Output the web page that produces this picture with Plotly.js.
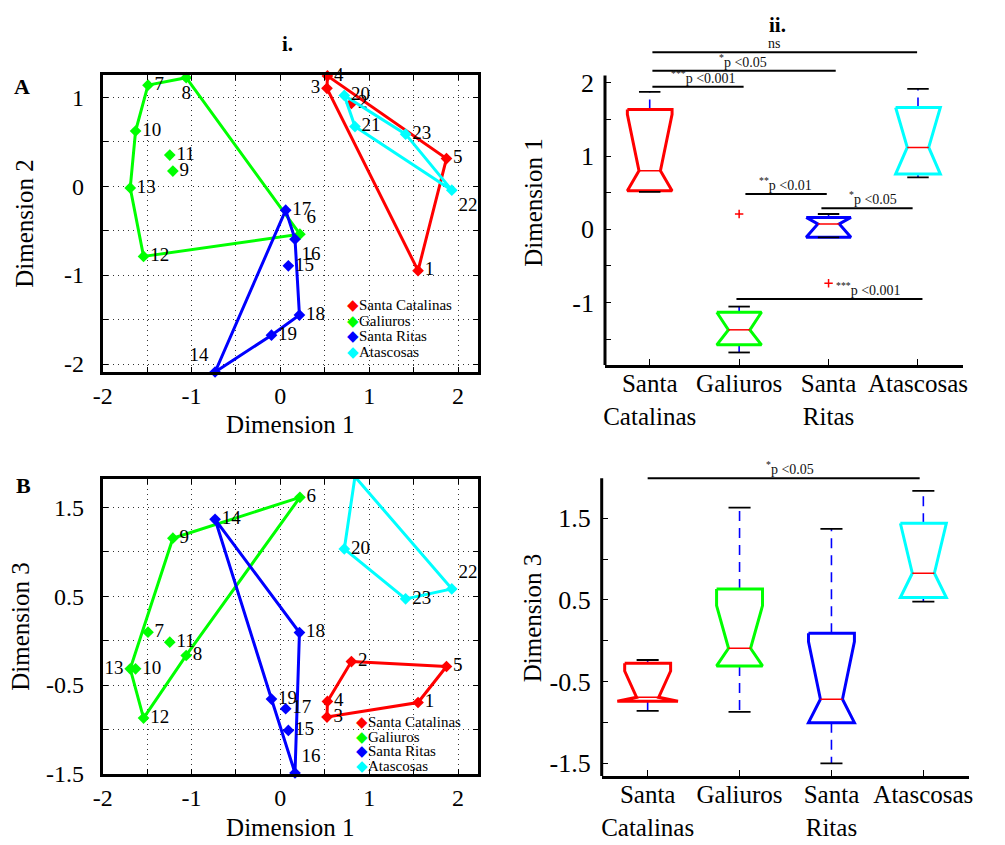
<!DOCTYPE html>
<html>
<head>
<meta charset="utf-8">
<script src="https://cdn.plot.ly/plotly-3.0.1.min.js"></script>
<style>html,body{margin:0;padding:0;background:#fff;}</style>
</head>
<body>
<div id="chart" style="width:1005px;height:845px;"></div>
<script>
// ================= DATA =================
const pointLabels = ['1','2','3','4','5','6','7','8','9','10','11','12','13','14','15','16','17','18','19','20','21','22','23'];
const groupNames = ['Santa Catalinas','Galiuros','Santa Ritas','Atascosas'];
const groupOfPoint = [0,0,0,0,0, 1,1,1,1,1,1,1,1, 2,2,2,2,2,2, 3,3,3,3];
const dimension1 = [1.55,0.80,0.525,0.53,1.87,0.22,-1.49,-1.06,-1.21,-1.63,-1.245,-1.54,-1.69,-0.735,0.09,0.165,0.06,0.215,-0.10,0.72,0.84,1.93,1.41];
const dimension2 = [-0.95,0.93,1.10,1.24,0.31,-0.54,1.136,1.22,0.17,0.62,0.35,-0.79,-0.02,-2.09,-0.896,-0.596,-0.27,-1.45,-1.676,1.02,0.67,-0.045,0.585];
const dimension3 = [-0.696,-0.235,-0.86,-0.684,-0.291,1.612,0.095,-0.167,1.152,-0.317,-0.017,-0.871,-0.317,1.365,-1.01,-1.489,-0.766,0.091,-0.657,1.031,1.844,0.582,0.47];
// convex hull outlines (point ids) per group
const hullDim12 = [[4,5,1,3,4],[7,8,6,12,13,10,7],[17,16,18,19,14,17],[20,23,22,21,20]];
const hullDim13 = [[2,5,1,3,4,2],[9,6,8,12,13,9],[14,18,16,19,14],[21,22,23,20,21]];

// box plot categories and statistics
const categories = ['Santa<br>Catalinas','Galiuros','Santa<br>Ritas','Atascosas'];
const d1Q1 = [0.527,-1.576,-0.109,0.754];
const d1NotchLo = [0.527,-1.576,-0.109,0.754];
const d1Median = [0.80,-1.371,0.073,1.117];
const d1NotchHi = [1.57,-1.131,0.163,1.662];
const d1Q3 = [1.635,-1.131,0.163,1.662];
const d1CapLo = [0.51,-1.68,-0.11,0.708];
const d1CapHi = [1.875,-1.054,0.209,1.916];
const d1OutlierGroup = [2,3];
const d1OutlierValue = [0.209,-0.736];

const d3Q1 = [-0.74,-0.308,-1.002,0.529];
const d3NotchLo = [-0.74,-0.308,-1.002,0.529];
const d3Median = [-0.692,-0.092,-0.716,0.827];
const d3NotchHi = [-0.37,0.43,-0.01,1.439];
const d3Q3 = [-0.276,0.635,0.092,1.439];
const d3CapLo = [-0.859,-0.871,-1.5,0.48];
const d3CapHi = [-0.235,1.631,1.369,1.835];

// significance brackets
const d1SigText = ['ns','<sup>*</sup>p &lt;0.05','<sup>***</sup>p &lt;0.001','<sup>**</sup>p &lt;0.01','<sup>*</sup>p &lt;0.05','<sup>***</sup>p &lt;0.001'];
const d1SigFrom = [1.03,1.03,1.03,2.07,2.92,1.97];
const d1SigTo = [3.99,3.08,2.05,2.98,3.94,4.05];
const d1SigLevel = [2.415,2.164,1.945,0.482,0.286,-0.951];
const d3SigText = ['<sup>*</sup>p &lt;0.05'];
const d3SigFrom = [1.0];
const d3SigTo = [3.96];
const d3SigLevel = [1.99];

// tick labels
const dimTickVals = [-2,-1.5,-1,-0.5,0,0.5,1,1.5,2];
const dimTickText = ['-2','','-1','','0','','1','','2'];
const dim2TickVals = [-2,-1.5,-1,-0.5,0,0.5,1];
const dim2TickText = ['-2','','-1','','0','','1'];
const dim3TickVals = [-1.5,-1,-0.5,0,0.5,1,1.5];
const dim3TickText = ['-1.5','','-0.5','','0.5','','1.5'];
const box1TickVals = [-1.5,-1,-0.5,0,0.5,1,1.5,2];
const box1TickText = ['','-1','','0','','1','','2'];

// ================= STYLE =================
const SERIF = 'Liberation Serif, Times New Roman, serif';
const COLORS = ['#ff0000','#00ff00','#0000ff','#00ffff'];
const labelPosA = ['middle right','middle right','middle left','middle right','middle right','top right','middle right','bottom center','middle right','middle right','middle right','middle right','middle right','top left','middle right','bottom right','middle right','middle right','middle right','middle right','middle right','bottom right','middle right'];
const labelPosB = ['middle right','middle right','middle right','middle right','middle right','middle right','middle right','middle right','middle right','middle right','middle right','middle right','middle left','middle right','middle right','top right','middle right','middle right','middle right','middle right','bottom left','top right','middle right'];
const d1SigTextX = [2.39,2.04,1.60,2.52,3.50,3.45];
const d3SigTextX = [2.55];
const BOX_HALF = 0.25, NOTCH_HALF = 0.12, CAP_HALF = 0.12;
const d1BottomHalf = [0.25,0.25,0.25,0.25];
const d3BottomHalf = [0.33,0.25,0.25,0.25];
const W = 1005, H = 845;
const px = v => v / W;
const py = v => 1 - v / H;

// ================= TRACES =================
const traces = [];

function addScatterPanel(xa, ya, xs, ys, hulls, positions) {
  groupNames.forEach((name, g) => {
    const hull = hulls[g];
    traces.push({
      type: 'scatter', mode: 'lines', xaxis: xa, yaxis: ya,
      x: hull.map(id => xs[id - 1]), y: hull.map(id => ys[id - 1]),
      line: {color: COLORS[g], width: 3}, hoverinfo: 'skip', showlegend: false
    });
    const idx = [];
    groupOfPoint.forEach((gg, i) => { if (gg === g) idx.push(i); });
    traces.push({
      type: 'scatter', mode: 'markers+text', xaxis: xa, yaxis: ya, name: name,
      x: idx.map(i => xs[i]), y: idx.map(i => ys[i]),
      text: idx.map(i => pointLabels[i]), textposition: idx.map(i => positions[i]),
      textfont: {family: SERIF, size: 19, color: 'black'},
      marker: {symbol: 'diamond', size: 9, color: COLORS[g], line: {width: 0}},
      cliponaxis: false, showlegend: false
    });
  });
}

function addBoxPanel(xa, ya, q1, nLo, med, nHi, q3, capLo, capHi, bottomHalf, outG, outV) {
  const medX = [], medY = [], capX = [], capY = [];
  for (let i = 0; i < 4; i++) {
    const c = i + 1;
    [[q3[i], capHi[i]], [q1[i], capLo[i]]].forEach(seg => {
      traces.push({type: 'scatter', mode: 'lines', xaxis: xa, yaxis: ya, x: [c, c], y: seg,
        line: {color: '#0000ff', width: 1.6, dash: '10px,7px'}, hoverinfo: 'skip', showlegend: false});
    });
    capX.push(c - CAP_HALF, c + CAP_HALF, null, c - CAP_HALF, c + CAP_HALF, null);
    capY.push(capHi[i], capHi[i], null, capLo[i], capLo[i], null);
    const wb = bottomHalf[i];
    traces.push({
      type: 'scatter', mode: 'lines', xaxis: xa, yaxis: ya,
      x: [c - BOX_HALF, c + BOX_HALF, c + BOX_HALF, c + NOTCH_HALF, c + wb, c + wb, c - wb, c - wb, c - NOTCH_HALF, c - BOX_HALF, c - BOX_HALF],
      y: [q3[i], q3[i], nHi[i], med[i], nLo[i], q1[i], q1[i], nLo[i], med[i], nHi[i], q3[i]],
      line: {color: COLORS[i], width: 3}, hoverinfo: 'skip', showlegend: false
    });
    medX.push(c - NOTCH_HALF, c + NOTCH_HALF, null);
    medY.push(med[i], med[i], null);
  }
  traces.push({type: 'scatter', mode: 'lines', xaxis: xa, yaxis: ya, x: capX, y: capY,
    line: {color: 'black', width: 1.8}, hoverinfo: 'skip', showlegend: false});
  traces.push({type: 'scatter', mode: 'lines', xaxis: xa, yaxis: ya, x: medX, y: medY,
    line: {color: '#ff0000', width: 1.5}, hoverinfo: 'skip', showlegend: false});
  if (outG && outG.length) {
    traces.push({type: 'scatter', mode: 'markers', xaxis: xa, yaxis: ya, x: outG, y: outV,
      marker: {symbol: 'cross-thin', size: 6, line: {color: '#ff0000', width: 1.5}},
      hoverinfo: 'skip', showlegend: false});
  }
}

addScatterPanel('x', 'y', dimension1, dimension2, hullDim12, labelPosA);
addScatterPanel('x3', 'y3', dimension1, dimension3, hullDim13, labelPosB);
addBoxPanel('x2', 'y2', d1Q1, d1NotchLo, d1Median, d1NotchHi, d1Q3, d1CapLo, d1CapHi, d1BottomHalf, d1OutlierGroup, d1OutlierValue);
addBoxPanel('x4', 'y4', d3Q1, d3NotchLo, d3Median, d3NotchHi, d3Q3, d3CapLo, d3CapHi, d3BottomHalf, [], []);

// ================= LAYOUT =================
const numFont = {family: SERIF, size: 24, color: 'black'};
const titleFont = {family: SERIF, size: 25, color: 'black'};
const scatterAxis = {
  showline: true, linewidth: 3, linecolor: 'black', mirror: 'allticks',
  ticks: 'inside', ticklen: 5, tickwidth: 1, tickcolor: 'black',
  showgrid: true, gridcolor: '#333333', griddash: '1px,4px', gridwidth: 1,
  zeroline: false, tickfont: numFont, automargin: false, fixedrange: true
};
const boxYAxis = {
  showline: false, ticks: 'inside', ticklen: 6, tickwidth: 1, tickcolor: 'black',
  showgrid: false, zeroline: false, tickfont: {family: SERIF, size: 26, color: 'black'},
  automargin: false, fixedrange: true, ticklabelstandoff: 10
};
const boxXAxis = {
  showline: true, linewidth: 3, linecolor: 'black', mirror: false,
  ticks: 'inside', ticklen: 6, tickwidth: 1, tickcolor: 'black',
  showgrid: false, zeroline: false, range: [0.5, 4.5], tickangle: 0,
  tickvals: [1, 2, 3, 4], ticktext: categories,
  tickfont: {family: SERIF, size: 25, color: 'black'},
  automargin: false, fixedrange: true, ticklabelstandoff: -6
};

const shapes = [];
const annotations = [];
shapes.push({type: 'line', xref: 'paper', yref: 'y2', x0: px(605), x1: px(605), y0: -1.9, y1: 2.10, line: {color: 'black', width: 3}});
shapes.push({type: 'line', xref: 'paper', yref: 'y4', x0: px(601.7), x1: px(601.7), y0: -1.7, y1: 1.99, line: {color: 'black', width: 3}});

function addBrackets(xa, ya, from, to, level, text, textX) {
  for (let i = 0; i < from.length; i++) {
    shapes.push({type: 'line', xref: xa, yref: ya, x0: from[i], x1: to[i], y0: level[i], y1: level[i], line: {color: 'black', width: 2}});
    annotations.push({xref: xa, yref: ya, x: textX[i], y: level[i], yanchor: 'bottom', xanchor: 'center', yshift: -1,
      text: text[i], showarrow: false, font: {family: SERIF, size: 14, color: '#111'}});
  }
}
addBrackets('x2', 'y2', d1SigFrom, d1SigTo, d1SigLevel, d1SigText, d1SigTextX);
addBrackets('x4', 'y4', d3SigFrom, d3SigTo, d3SigLevel, d3SigText, d3SigTextX);

function addLegend(left, rows) {
  groupNames.forEach((name, g) => {
    annotations.push({xref: 'paper', yref: 'paper', x: px(left), y: py(rows[g]), xanchor: 'left', yanchor: 'middle',
      text: '<span style="color:' + COLORS[g] + '">◆</span>' + name, showarrow: false,
      font: {family: SERIF, size: 15, color: 'black'}});
  });
}
addLegend(345, [305, 320.5, 336, 351.5]);
addLegend(353.5, [721.7, 736.7, 751.3, 766]);

function panelLabel(x, y, text, size) {
  annotations.push({xref: 'paper', yref: 'paper', x: px(x), y: py(y), xanchor: 'center', yanchor: 'middle',
    text: text, showarrow: false, font: {family: SERIF, size: size, color: 'black'}});
}
panelLabel(21.7, 86, '<b>A</b>', 22);
panelLabel(23, 485, '<b>B</b>', 22);
panelLabel(287, 44, '<b>i.</b>', 21);
panelLabel(777.7, 25, '<b>ii.</b>', 21);

const layout = {
  width: W, height: H,
  margin: {l: 0, r: 0, t: 0, b: 0, pad: 0},
  paper_bgcolor: 'white', plot_bgcolor: 'white',
  font: {family: SERIF, color: 'black'},
  showlegend: false,
  xaxis: Object.assign({}, scatterAxis, {domain: [px(102.7), px(478)], range: [-2, 2.225], anchor: 'y',
    tickvals: dimTickVals, ticktext: dimTickText, ticklabelstandoff: 0,
    title: {text: 'Dimension 1', font: titleFont, standoff: 8}}),
  yaxis: Object.assign({}, scatterAxis, {domain: [py(372), py(75)], range: [-2.09, 1.25], anchor: 'x',
    tickvals: dim2TickVals, ticktext: dim2TickText, ticklabelstandoff: 11,
    title: {text: 'Dimension 2', font: titleFont, standoff: 24}}),
  xaxis3: Object.assign({}, scatterAxis, {domain: [px(102.7), px(478)], range: [-2, 2.225], anchor: 'y3',
    tickvals: dimTickVals, ticktext: dimTickText, ticklabelstandoff: 0,
    title: {text: 'Dimension 1', font: titleFont, standoff: 9}}),
  yaxis3: Object.assign({}, scatterAxis, {domain: [py(774), py(479)], range: [-1.5, 1.818], anchor: 'x3',
    tickvals: dim3TickVals, ticktext: dim3TickText, ticklabelstandoff: 11,
    title: {text: 'Dimension 3', font: titleFont, standoff: 10}}),
  xaxis2: Object.assign({}, boxXAxis, {domain: [px(605), px(962.7)], anchor: 'y2'}),
  yaxis2: Object.assign({}, boxYAxis, {domain: [py(365), py(40)], range: [-1.851, 2.583], anchor: 'x2',
    tickvals: box1TickVals, ticktext: box1TickText,
    title: {text: 'Dimension 1', font: titleFont, standoff: 22}}),
  xaxis4: Object.assign({}, boxXAxis, {domain: [px(601.7), px(969.3)], anchor: 'y4'}),
  yaxis4: Object.assign({}, boxYAxis, {domain: [py(776), py(460)], range: [-1.655, 2.213], anchor: 'x4',
    tickvals: dim3TickVals, ticktext: dim3TickText,
    title: {text: 'Dimension 3', font: titleFont, standoff: 0}}),
  shapes: shapes,
  annotations: annotations
};

Plotly.newPlot('chart', traces, layout, {displayModeBar: false, staticPlot: true});
</script>
</body>
</html>
